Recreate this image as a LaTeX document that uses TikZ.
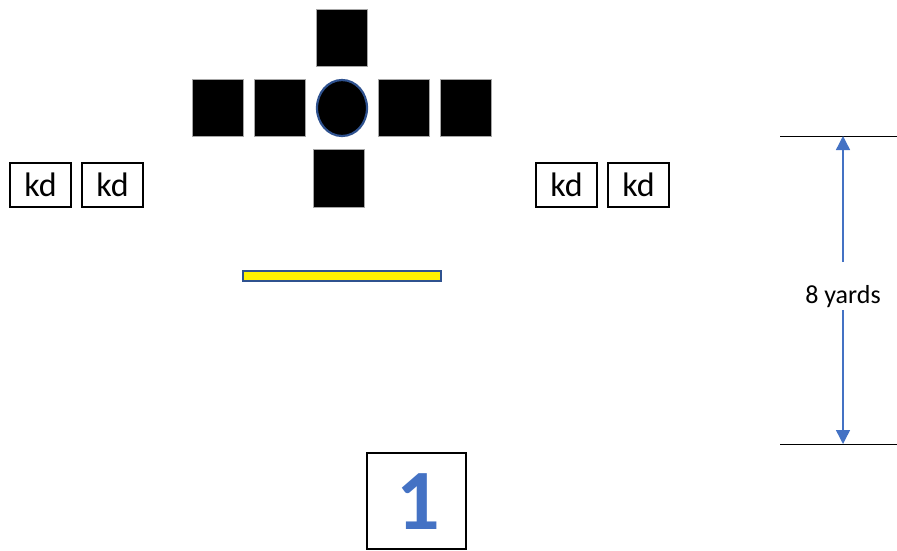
\documentclass[tikz,border=0pt]{standalone}
\usepackage{fontspec}
\setmainfont{Carlito}
\usetikzlibrary{arrows.meta,shapes.geometric}
\definecolor{arrblue}{HTML}{4472C4}
\definecolor{darkblue}{HTML}{2F528F}
\begin{document}
\begin{tikzpicture}[x=1pt,y=-1pt,
  blk/.style={draw=gray!70,line width=0.8pt,fill=black,minimum width=51pt,minimum height=57.5pt,inner sep=0pt},
  kdbox/.style={draw=black,line width=1.1pt,minimum width=61pt,minimum height=44pt,inner sep=0pt,font=\fontsize{34}{36}\selectfont},
  dimline/.style={black,line width=0.8pt},
  dimarrow/.style={arrblue,line width=1.4pt,-{Triangle[length=14pt,width=14pt]}}]
\useasboundingbox (0,0) rectangle (897,550);
% formation
\node[blk] (t) at (342,38) {};
\node[blk] (l1) at (218,108) {};
\node[blk] (l2) at (280,108) {};
\node[draw=darkblue,line width=2.2pt,fill=black,ellipse,minimum width=50pt,minimum height=56pt,inner sep=0pt] (c) at (342,108) {};
\node[blk] (r1) at (404,108) {};
\node[blk] (r2) at (466,108) {};
\node[blk] (b) at (338.5,178.5) {};
% kd boxes
\node[kdbox] (k1) at (40.5,185) {kd};
\node[kdbox] (k2) at (112.5,185) {kd};
\node[kdbox] (k3) at (566.5,185) {kd};
\node[kdbox] (k4) at (638.5,185) {kd};
% yellow bar
\node[draw=darkblue,line width=2.4pt,fill=yellow,minimum width=198pt,minimum height=10pt,inner sep=0pt] (bar) at (342,276) {};
% dimension
\coordinate (tl1) at (780,136);
\coordinate (tl2) at (897,136);
\coordinate (bl1) at (780,444);
\coordinate (bl2) at (897,444);
\coordinate (ta) at (843,136);
\coordinate (ba) at (843,444);
\coordinate (gt) at (843,262);
\coordinate (gb) at (843,310);
\draw[dimline] (tl1) -- (tl2);
\draw[dimline] (bl1) -- (bl2);
\node[font=\fontsize{26}{30}\selectfont,inner sep=0pt] (lbl) at (843,297) {8 yards};
\draw[dimarrow] (gt) -- (ta);
\draw[dimarrow] (gb) -- (ba);
% numbered box
\node[draw=black,line width=1.4pt,minimum width=99pt,minimum height=96pt,inner sep=0pt] (one) at (416.5,501) {};
\node[text=arrblue,font=\bfseries\fontsize{86}{90}\selectfont,inner sep=0pt] (num) at (418,502) {1};
\end{tikzpicture}
\end{document}
